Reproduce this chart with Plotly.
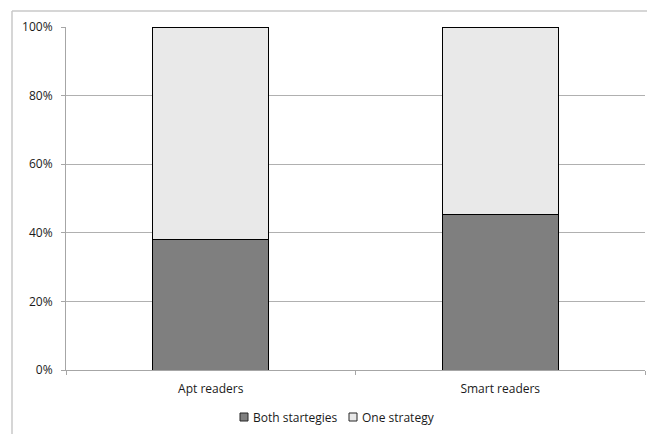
import plotly.graph_objects as go

# Share of readers by number of strategies used (percent)
categories = ["Apt readers", "Smart readers"]
both_strategies = [38.0, 45.3]
one_strategy = [62.0, 54.7]
series_names = ["Both startegies", "One strategy"]
series_colors = ["#7f7f7f", "#e9e9e9"]

W, H = 647, 434
L, R, T, B = 66, 2, 27, 64
pw, ph = W - L - R, H - T - B


def px_x(x):
    return (x - L) / pw


def px_y(y):
    return (H - B - y) / ph


fig = go.Figure()
for name, vals, col in zip(series_names, [both_strategies, one_strategy], series_colors):
    fig.add_trace(go.Bar(
        x=categories, y=vals, name=name, showlegend=False,
        marker=dict(color=col, line=dict(color="#000000", width=1)),
    ))

# outer chart frame (top and left edges)
frame = dict(color="#c8c8c8", width=1.5)
fig.add_shape(type="line", xref="paper", yref="paper",
              x0=px_x(12), x1=px_x(W + 2), y0=px_y(11), y1=px_y(11), line=frame)
fig.add_shape(type="line", xref="paper", yref="paper",
              x0=px_x(12), x1=px_x(12), y0=px_y(11), y1=px_y(H + 2), line=frame)

font = dict(family="Open Sans, Liberation Sans, sans-serif", size=12, color="#1a1a1a")

# compact legend below the axis: small square swatch followed by its label
legend_y = 417
swatch_x = [240, 349]
for name, col, sx in zip(series_names, series_colors, swatch_x):
    fig.add_shape(type="rect", xref="paper", yref="paper",
                  x0=px_x(sx), x1=px_x(sx + 8), y0=px_y(legend_y - 4), y1=px_y(legend_y + 4),
                  fillcolor=col, line=dict(color="#262626", width=1))
    fig.add_annotation(xref="paper", yref="paper", x=px_x(sx + 11), y=px_y(legend_y),
                       xanchor="left", yanchor="middle", text=name, showarrow=False,
                       font=font)

fig.update_layout(
    width=W, height=H,
    margin=dict(l=L, r=R, t=T, b=B),
    barmode="stack",
    bargap=0.6,
    plot_bgcolor="white",
    paper_bgcolor="white",
    font=font,
    xaxis=dict(
        showline=True, linecolor="#a6a6a6", linewidth=1,
        ticks="outside", tickson="boundaries", ticklen=4, tickcolor="#a6a6a6",
        showgrid=False, tickfont=font, ticklabelstandoff=8,
    ),
    yaxis=dict(
        range=[0, 100], tickvals=[0, 20, 40, 60, 80, 100],
        ticktext=["0%", "20%", "40%", "60%", "80%", "100%"],
        showline=True, linecolor="#a6a6a6", linewidth=1,
        ticks="outside", ticklen=4, tickcolor="#a6a6a6",
        showgrid=True, gridcolor="#b0b0b0", gridwidth=1,
        zeroline=False, tickfont=font, ticklabelstandoff=6,
    ),
)

fig.write_html("out.html")
